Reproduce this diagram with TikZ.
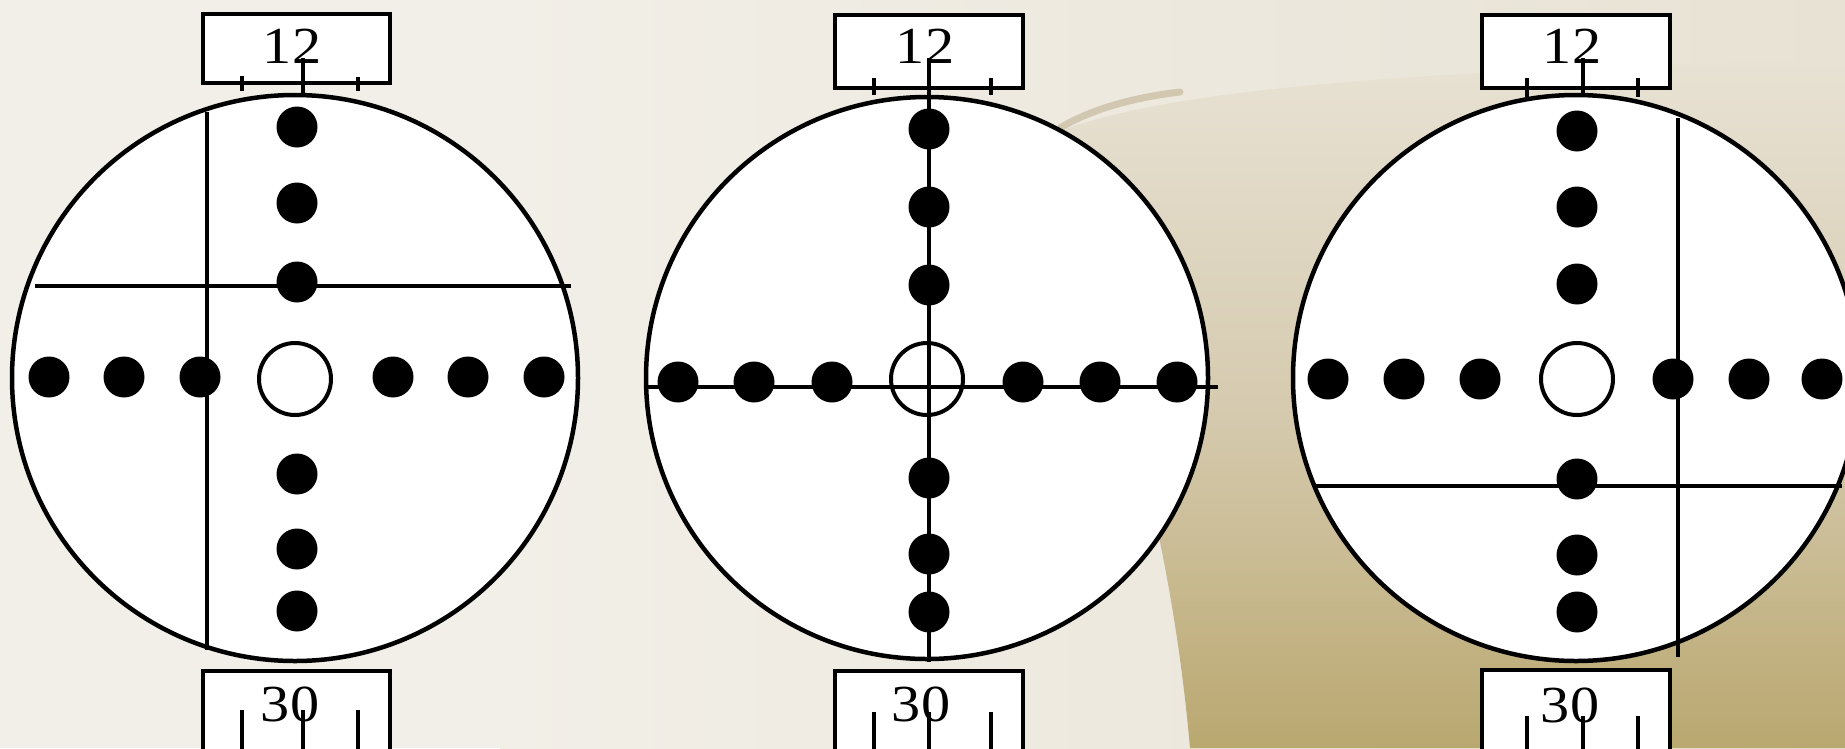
\documentclass[tikz,border=0pt]{standalone}
\usepackage{fontspec}
\setmainfont{Liberation Serif}
\definecolor{bgcream}{RGB}{242,239,232}
\definecolor{bglight}{RGB}{232,226,212}
\definecolor{bgtan}{RGB}{214,203,176}
\definecolor{bgolive}{RGB}{186,168,112}
\definecolor{bgstreak}{RGB}{160,138,90}
\tikzset{
  ring/.style={circle, draw=black, line width=4.5pt, fill=white, inner sep=0pt},
  hair/.style={draw=black, line width=4pt},
  blob/.style={circle, fill=black, inner sep=0pt, minimum size=41pt},
  hole/.style={circle, draw=black, line width=4pt, inner sep=0pt, minimum size=72pt},
  tag/.style={rectangle, draw=black, line width=4.5pt, fill=white, inner sep=0pt},
  num/.style={font=\fontsize{52}{60}\selectfont, inner sep=0pt, anchor=base},
}
\newcommand{\wnum}[1]{\scalebox{1.12}[1]{#1}}
\begin{document}
\begin{tikzpicture}[x=1pt,y=-1pt]
\clip (0,0) rectangle (1845,748);
% background
\fill[bgcream] (0,0) rectangle (1845,748);
\shade[left color=bgcream, right color=bglight] (500,0) rectangle (1845,748);
\shade[top color=bglight, bottom color=bgolive, middle color=bgtan]
  (1040,140) .. controls (1140,90) and (1400,70) .. (1845,60)
  -- (1845,748) -- (1190,748) .. controls (1170,520) and (1110,330) .. (1040,140) -- cycle;
\draw[bgstreak, line width=7pt, opacity=0.35, line cap=round]
  (1060,128) .. controls (1090,110) and (1130,98) .. (1180,92);

% ---------- clock 1 ----------
\node[ring, minimum size=566pt] (c1) at (295,378) {};
\node[hole, fill=white] (h1) at (295,379) {};
\draw[hair] (207,112) -- (207,650);
\draw[hair] (35,286) -- (571,286);
\foreach \x/\n in {49/a,124/b,200/c,393/d,468/e,544/f}
  \node[blob] (d1\n) at (\x,377) {};
\foreach \y/\n in {127/u,203/v,282/w,474/x,549/y,611/z}
  \node[blob] (d1\n) at (297,\y) {};
\node[tag, minimum width=187pt, minimum height=69pt] (t1) at (296.5,48.5) {};
\node[num] (n1) at (292,63) {\wnum{12}};
\draw[hair] (303,58) -- (303,93);
\draw[hair] (242,76) -- (242,91);
\draw[hair] (358,77) -- (358,91);
\node[tag, minimum width=187pt, minimum height=100pt] (b1) at (296.5,721) {};
\node[num] (m1) at (290,721) {\wnum{30}};
\foreach \x in {242,303,358} \draw[hair] (\x,710) -- (\x,760);

% ---------- clock 2 ----------
\node[ring, minimum size=562pt] (c2) at (927,378) {};
\node[hole] (h2) at (927,379) {};
\draw[hair] (929,58) -- (929,662);
\draw[hair] (647,387) -- (1218,387);
\foreach \x/\n in {678/a,754/b,832/c,1023/d,1100/e,1177/f}
  \node[blob] (d2\n) at (\x,382) {};
\foreach \y/\n in {129/u,207/v,285/w,478/x,554/y,612/z}
  \node[blob] (d2\n) at (929,\y) {};
\node[tag, minimum width=188pt, minimum height=73pt] (t2) at (929,51.5) {};
\node[num] (n2) at (925,63) {\wnum{12}};
\draw[hair] (929,58) -- (929,95);
\draw[hair] (874,78) -- (874,95);
\draw[hair] (991,78) -- (991,95);
\node[tag, minimum width=188pt, minimum height=100pt] (b2) at (929,721) {};
\node[num] (m2) at (921,721) {\wnum{30}};
\foreach \x in {874,929,991} \draw[hair] (\x,712) -- (\x,760);

% ---------- clock 3 ----------
\node[ring, minimum size=566pt] (c3) at (1576,378) {};
\node[hole, fill=white] (h3) at (1577,379) {};
\draw[hair] (1678,118) -- (1678,657);
\draw[hair] (1315,486) -- (1842,486);
\foreach \x/\n in {1328/a,1404/b,1480/c,1673/d,1749/e,1822/f}
  \node[blob] (d3\n) at (\x,379) {};
\foreach \y/\n in {131/u,207/v,284/w,479/x,555/y,612/z}
  \node[blob] (d3\n) at (1577,\y) {};
\node[tag, minimum width=188pt, minimum height=73pt] (t3) at (1576,51.5) {};
\node[num] (n3) at (1572,63) {\wnum{12}};
\draw[hair] (1583,58) -- (1583,97);
\draw[hair] (1527,78) -- (1527,97);
\draw[hair] (1638,78) -- (1638,97);
\node[tag, minimum width=188pt, minimum height=100pt] (b3) at (1576,720) {};
\node[num] (m3) at (1570,722) {\wnum{30}};
\foreach \x in {1527,1583,1638} \draw[hair] (\x,716) -- (\x,760);
\end{tikzpicture}
\end{document}
